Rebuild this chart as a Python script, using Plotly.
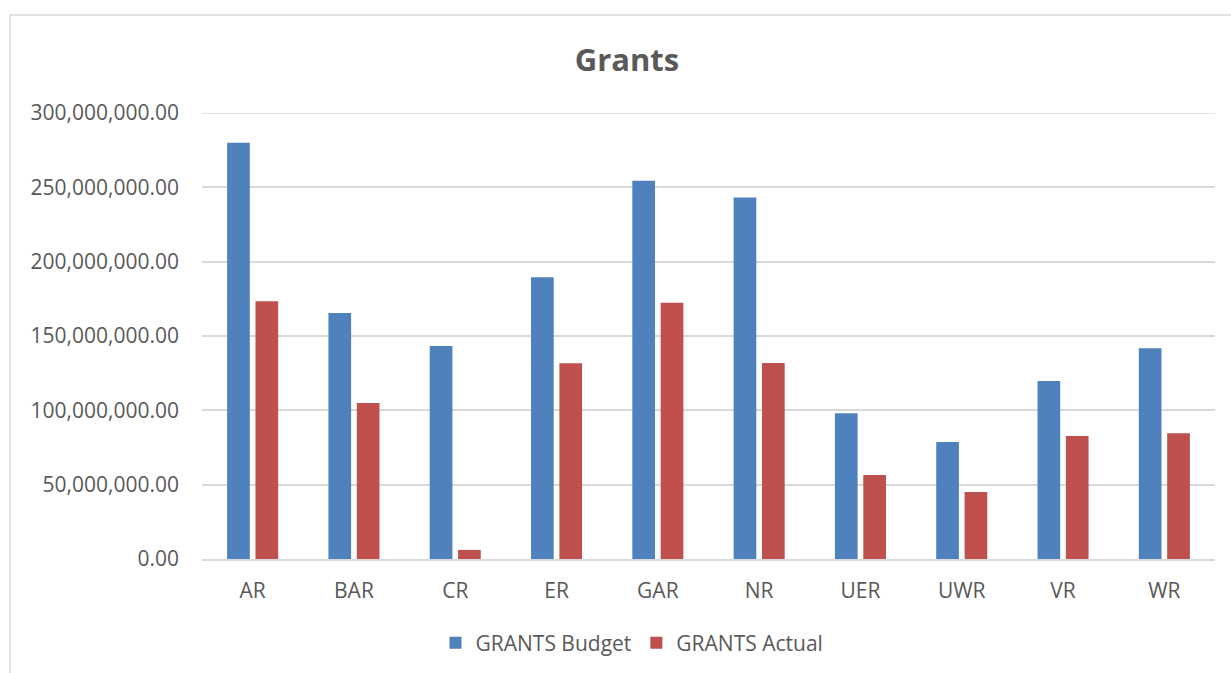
import plotly.graph_objects as go

regions = ["AR", "BAR", "CR", "ER", "GAR", "NR", "UER", "UWR", "VR", "WR"]
grants_budget = [280.0e6, 165.5e6, 143.3e6, 189.6e6, 254.4e6, 243.1e6, 98.0e6, 78.7e6, 119.8e6, 141.8e6]
grants_actual = [173.4e6, 105.0e6, 6.1e6, 131.7e6, 172.3e6, 131.9e6, 56.5e6, 45.1e6, 82.8e6, 84.6e6]
y_ticks = [0, 50e6, 100e6, 150e6, 200e6, 250e6, 300e6]

FONT = "Open Sans"
TEXT = "#595959"
GRID = "#d9d9d9"

fig = go.Figure()
fig.add_trace(go.Bar(name="GRANTS Budget", x=regions, y=grants_budget,
                     marker=dict(color="#4f81bd", line=dict(width=0))))
fig.add_trace(go.Bar(name="GRANTS Actual", x=regions, y=grants_actual,
                     marker=dict(color="#c0504d", line=dict(width=0))))

W, H = 1231, 673
L, R, T, B = 202, 16, 113, 114
pw, ph = W - L - R, H - T - B

def px_x(px):
    return (px - L) / pw

def px_y(py):
    return (H - B - py) / ph

fig.update_layout(
    width=W, height=H,
    margin=dict(l=L, r=R, t=T, b=B, pad=0),
    paper_bgcolor="white", plot_bgcolor="white",
    barmode="group", bargap=0.44, bargroupgap=0.2,
    font=dict(family=FONT, color=TEXT, size=21),
    title=dict(text="<b>Grants</b>", x=627 / W, xref="container", xanchor="center",
               y=1 - 60 / H, yref="container", yanchor="middle",
               font=dict(family=FONT, size=31, color=TEXT)),
    legend=dict(orientation="h", xref="container", yref="container",
                x=632 / W, xanchor="center", y=1 - 643 / H, yanchor="middle",
                font=dict(family=FONT, size=21, color=TEXT),
                itemwidth=30, traceorder="normal"),
    xaxis=dict(showgrid=False, showline=True, linecolor=GRID, linewidth=1.5,
               ticks="", ticklabelstandoff=12,
               tickfont=dict(family=FONT, size=21, color=TEXT)),
    yaxis=dict(range=[0, 300e6], tickvals=y_ticks, tickformat=",.2f",
               showgrid=True, gridcolor=GRID, gridwidth=1.5,
               zeroline=False, showline=False, ticks="", ticklabelstandoff=22,
               tickfont=dict(family=FONT, size=21, color=TEXT)),
    shapes=[
        # chart-area frame
        dict(type="rect", xref="paper", yref="paper",
             x0=px_x(10), x1=px_x(W + 20), y0=px_y(H + 20), y1=px_y(15),
             line=dict(color=GRID, width=1.5), fillcolor="rgba(0,0,0,0)",
             layer="below"),
        # top gridline at the axis maximum
        dict(type="line", xref="paper", yref="y", x0=0, x1=1,
             y0=y_ticks[-1], y1=y_ticks[-1],
             line=dict(color=GRID, width=1.5), layer="below"),
    ],
)

fig.write_html("out.html")
